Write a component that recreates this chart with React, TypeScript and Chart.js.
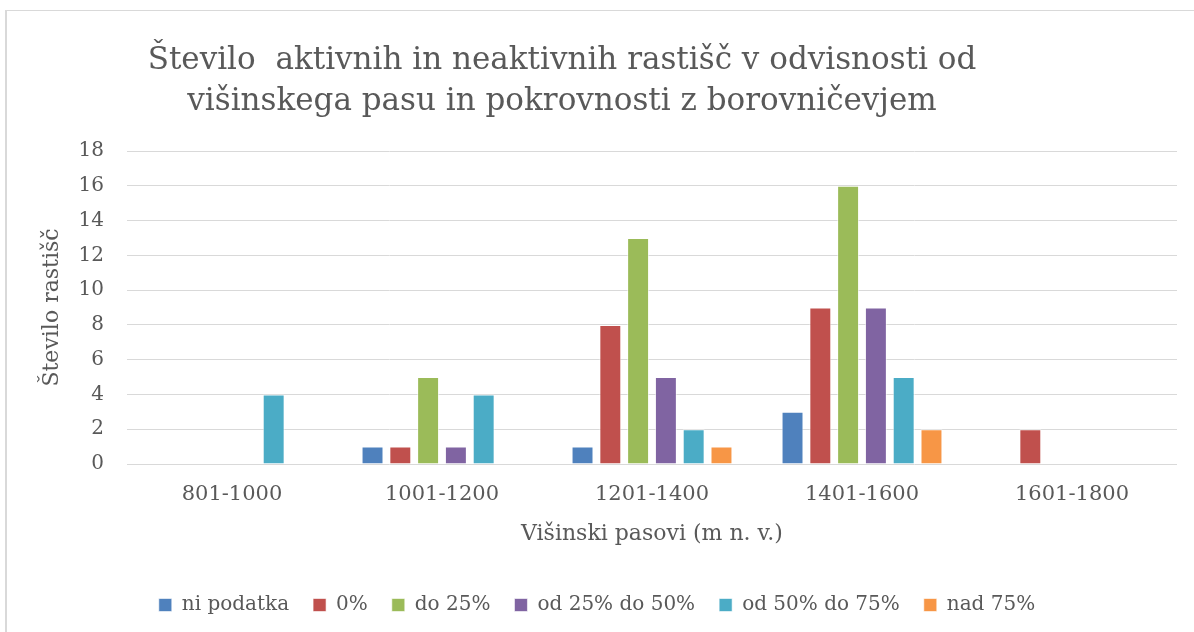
import React, { useEffect, useRef } from "react";
import { Chart, registerables } from "chart.js";

Chart.register(...registerables);

const TITLE_LINES = [
  "Število  aktivnih in neaktivnih rastišč v odvisnosti od",
  "višinskega pasu in pokrovnosti z borovničevjem",
];
const CATEGORIES = ["801-1000", "1001-1200", "1201-1400", "1401-1600", "1601-1800"];
const SERIES_NAMES = ["ni podatka", "0%", "do 25%", "od 25% do 50%", "od 50% do 75%", "nad 75%"];
const NI_PODATKA = [0, 1, 1, 3, 0];
const P0 = [0, 1, 8, 9, 2];
const DO25 = [0, 5, 13, 16, 0];
const OD25DO50 = [0, 1, 5, 9, 0];
const OD50DO75 = [4, 4, 2, 5, 0];
const NAD75 = [0, 0, 1, 2, 0];
const COLORS = ["#4F81BD", "#C0504D", "#9BBB59", "#8064A2", "#4BACC6", "#F79646"];
const Y_TITLE = "Število rastišč";
const X_TITLE = "Višinski pasovi (m n. v.)";

const FONT = '"DejaVu Serif", serif';
const TEXT = "#595959";

const titlePlugin = {
  id: "customTitle",
  afterDraw(chart: any) {
    const ctx = chart.ctx;
    ctx.save();
    ctx.font = `31px ${FONT}`;
    ctx.fillStyle = TEXT;
    ctx.textAlign = "center";
    ctx.textBaseline = "alphabetic";
    const cx = chart.width / 2 - 35;
    TITLE_LINES.forEach((line, i) => ctx.fillText(line, cx, 69 + i * 41));
    ctx.restore();
  },
};

export default function App() {
  const ref = useRef<HTMLCanvasElement | null>(null);
  useEffect(() => {
    if (!ref.current) return;
    const all = [NI_PODATKA, P0, DO25, OD25DO50, OD50DO75, NAD75];
    const chart = new Chart(ref.current, {
      type: "bar",
      data: {
        labels: CATEGORIES,
        datasets: all.map((d, i) => ({
          label: SERIES_NAMES[i],
          data: d,
          backgroundColor: COLORS[i],
          borderColor: "rgba(255,255,255,0.6)",
          borderWidth: 1,
          categoryPercentage: 0.794,
          barPercentage: 0.79,
        })),
      },
      options: {
        animation: false,
        responsive: false,
        layout: { padding: { top: 151, left: 17, right: 17, bottom: 7 } },
        plugins: {
          title: { display: false },
          tooltip: { enabled: false },
          legend: {
            position: "bottom",
            labels: {
              boxWidth: 13,
              boxHeight: 13,
              padding: 24,
              color: TEXT,
              font: { family: FONT, size: 20 },
            },
          },
        },
        scales: {
          x: {
            grid: { display: false, drawTicks: false },
            border: { display: false },
            ticks: { color: TEXT, font: { family: FONT, size: 21 }, padding: 18, maxRotation: 0 },
            title: {
              display: true,
              text: X_TITLE,
              color: TEXT,
              font: { family: FONT, size: 22 },
              padding: { top: 0, bottom: 24 },
            },
            afterFit(scale: any) {
              scale.height = 107;
            },
          },
          y: {
            min: 0,
            max: 18,
            grid: { color: "#D9D9D9", lineWidth: 1, drawTicks: false },
            border: { display: false },
            ticks: { stepSize: 2, color: TEXT, font: { family: FONT, size: 20 }, padding: 23 },
            title: {
              display: true,
              text: Y_TITLE,
              color: TEXT,
              font: { family: FONT, size: 22 },
              padding: { top: 22, bottom: 0 },
            },
            afterFit(scale: any) {
              scale.width = 110;
            },
          },
        },
      },
      plugins: [titlePlugin],
    });
    return () => chart.destroy();
  }, []);
  return (
    <div style={{ position: "fixed", left: 0, top: 0, width: 1194, height: 632, background: "#fff" }}>
      <div
        style={{
          position: "absolute",
          left: 5,
          top: 10,
          width: 1200,
          height: 640,
          border: "1px solid #D9D9D9",
          borderLeftWidth: 2,
          boxSizing: "border-box",
        }}
      />
      <canvas ref={ref} width={1194} height={632} style={{ position: "absolute", left: 0, top: 0 }} />
    </div>
  );
}
